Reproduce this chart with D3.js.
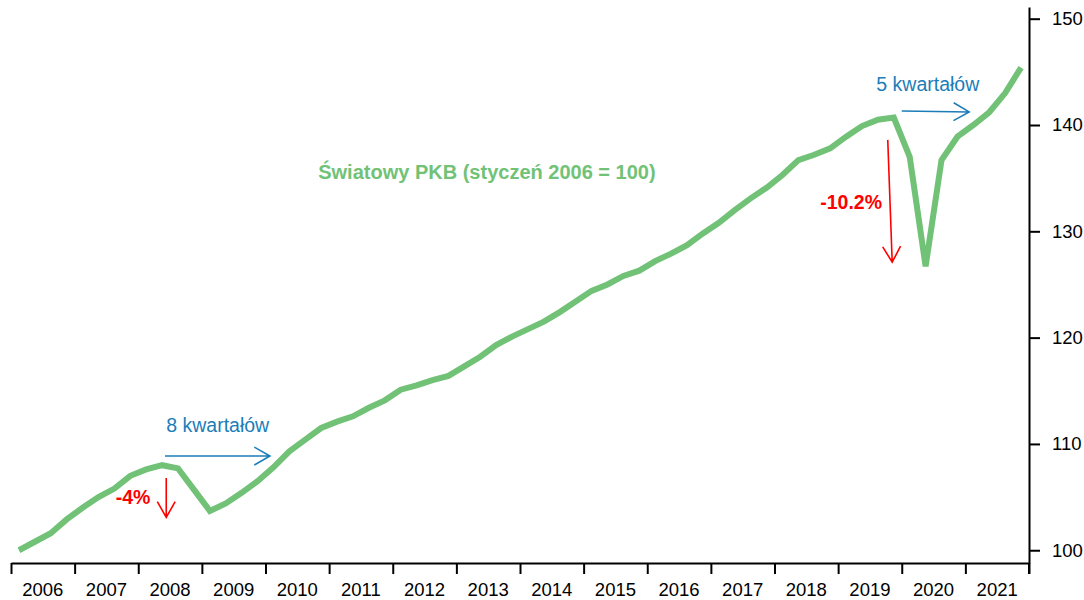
<!DOCTYPE html>
<html>
<head>
<meta charset="utf-8">
<script src="https://cdn.jsdelivr.net/npm/d3@7"></script>
<style>
  body { margin: 0; background: #fff; }
  text { font-family: "Liberation Sans", Arial, sans-serif; }
</style>
</head>
<body>
<div id="chart"></div>
<script>
  var svgWidth = 1084;
  var svgHeight = 600;

  // quarterly world GDP index, 2006Q1 .. 2021Q4
  var startYear = 2006;
  var endYear = 2022;
  var years = d3.range(2006, 2022);
  var yTicks = [100, 110, 120, 130, 140, 150];
  var gdp = [
    100.0, 100.8, 101.6, 102.9,   // 2006
    104.0, 105.0, 105.8, 107.0,   // 2007
    107.6, 108.0, 107.7, 105.7,   // 2008
    103.7, 104.4, 105.4, 106.5,   // 2009
    107.8, 109.3, 110.4, 111.5,   // 2010
    112.1, 112.6, 113.4, 114.1,   // 2011
    115.1, 115.5, 116.0, 116.4,   // 2012
    117.3, 118.2, 119.3, 120.1,   // 2013
    120.8, 121.5, 122.4, 123.4,   // 2014
    124.4, 125.0, 125.8, 126.3,   // 2015
    127.2, 127.9, 128.7, 129.8,   // 2016
    130.8, 132.0, 133.1, 134.1,   // 2017
    135.3, 136.7, 137.2, 137.8,   // 2018
    138.9, 139.9, 140.5, 140.7,   // 2019
    137.0, 126.7, 136.7, 138.9,   // 2020
    140.0, 141.2, 143.0, 145.4    // 2021
  ];
  var seriesLabel = "Światowy PKB (styczeń 2006 = 100)";

  // annotations, in data units (year, index value)
  var notes = [
    { text: "-4%", x: 2008.19, y: 105.0, color: "#ff0000", bold: true, anchor: "end" },
    { text: "8 kwartałów", x: 2008.44, y: 111.8, color: "#1c7db8", bold: false, anchor: "start" },
    { text: "-10.2%", x: 2019.69, y: 132.7, color: "#ff0000", bold: true, anchor: "end" },
    { text: "5 kwartałów", x: 2019.60, y: 143.85, color: "#1c7db8", bold: false, anchor: "start" }
  ];
  var arrows = [
    { x1: 2008.44, y1: 106.8, x2: 2008.44, y2: 103.1, color: "#ff0000" },
    { x1: 2008.42, y1: 108.86, x2: 2010.07, y2: 108.86, color: "#1c7db8" },
    { x1: 2019.78, y1: 138.6, x2: 2019.85, y2: 127.1, color: "#ff0000" },
    { x1: 2020.00, y1: 141.32, x2: 2021.06, y2: 141.23, color: "#1c7db8" }
  ];

  var green = "#71c276";

  var svg = d3.select("#chart")
    .append("svg")
    .attr("width", svgWidth)
    .attr("height", svgHeight);

  var xScale = d3.scaleLinear()
    .domain([startYear, endYear])
    .range([11, 1029]);

  var yScale = d3.scaleLinear()
    .domain([98.8, 151.1])
    .range([563, 7]);

  // x axis: ticks on year boundaries, labels in between
  var bottomAxis = d3.axisBottom(xScale)
    .tickValues(d3.range(startYear, endYear + 1))
    .tickFormat("")
    .tickSizeInner(11)
    .tickSizeOuter(0);

  var xAxis = svg.append("g")
    .attr("transform", `translate(0, ${yScale.range()[0]})`)
    .call(bottomAxis);
  xAxis.selectAll("line, path").attr("stroke", "#000").attr("stroke-width", 2);

  svg.append("g").selectAll("text")
    .data(years)
    .enter()
    .append("text")
    .attr("x", d => xScale(d + 0.5))
    .attr("y", 596)
    .attr("text-anchor", "middle")
    .attr("font-size", "18.5px")
    .attr("fill", "#000")
    .text(d => d);

  // y axis on the right
  var rightAxis = d3.axisRight(yScale)
    .tickValues(yTicks)
    .tickSizeInner(11)
    .tickSizeOuter(0)
    .tickPadding(12);

  var yAxis = svg.append("g")
    .attr("transform", `translate(${xScale(endYear)}, 0)`)
    .call(rightAxis);
  yAxis.selectAll("line, path").attr("stroke", "#000").attr("stroke-width", 2);
  yAxis.selectAll("text")
    .attr("font-size", "18.5px")
    .attr("font-family", "Liberation Sans, Arial, sans-serif")
    .attr("fill", "#000");
  // y axis line continues down to the bottom tick
  yAxis.append("line")
    .attr("x1", 0).attr("x2", 0)
    .attr("y1", yScale.range()[0]).attr("y2", yScale.range()[0] + 11)
    .attr("stroke", "#000").attr("stroke-width", 2);

  // the GDP line
  var line = d3.line()
    .x((d, i) => xScale(startYear + i / 4 + 0.125))
    .y(d => yScale(d));

  svg.append("path")
    .datum(gdp)
    .attr("d", line)
    .attr("fill", "none")
    .attr("stroke", green)
    .attr("stroke-width", 6)
    .attr("stroke-linejoin", "miter")
    .attr("stroke-miterlimit", 2);

  // series label
  svg.append("text")
    .attr("x", xScale(2013.48))
    .attr("y", yScale(135.6))
    .attr("dy", "0.35em")
    .attr("text-anchor", "middle")
    .attr("font-size", "20px")
    .attr("font-weight", "bold")
    .attr("fill", green)
    .text(seriesLabel);

  // annotations
  svg.append("g").selectAll("text")
    .data(notes)
    .enter()
    .append("text")
    .attr("x", d => xScale(d.x))
    .attr("y", d => yScale(d.y))
    .attr("dy", "0.35em")
    .attr("text-anchor", d => d.anchor)
    .attr("font-size", "19.5px")
    .attr("font-weight", d => d.bold ? "bold" : "normal")
    .attr("fill", d => d.color)
    .text(d => d.text);

  // open-headed arrows
  function arrowPath(d) {
    var x1 = xScale(d.x1), y1 = yScale(d.y1);
    var x2 = xScale(d.x2), y2 = yScale(d.y2);
    var ang = Math.atan2(y2 - y1, x2 - x1);
    var len = 18, half = 0.52;
    var ax = x2 - len * Math.cos(ang - half), ay = y2 - len * Math.sin(ang - half);
    var bx = x2 - len * Math.cos(ang + half), by = y2 - len * Math.sin(ang + half);
    return `M${x1},${y1}L${x2},${y2}M${ax},${ay}L${x2},${y2}L${bx},${by}`;
  }

  svg.append("g").selectAll("path")
    .data(arrows)
    .enter()
    .append("path")
    .attr("d", arrowPath)
    .attr("fill", "none")
    .attr("stroke", d => d.color)
    .attr("stroke-width", 1.6);
</script>
</body>
</html>
